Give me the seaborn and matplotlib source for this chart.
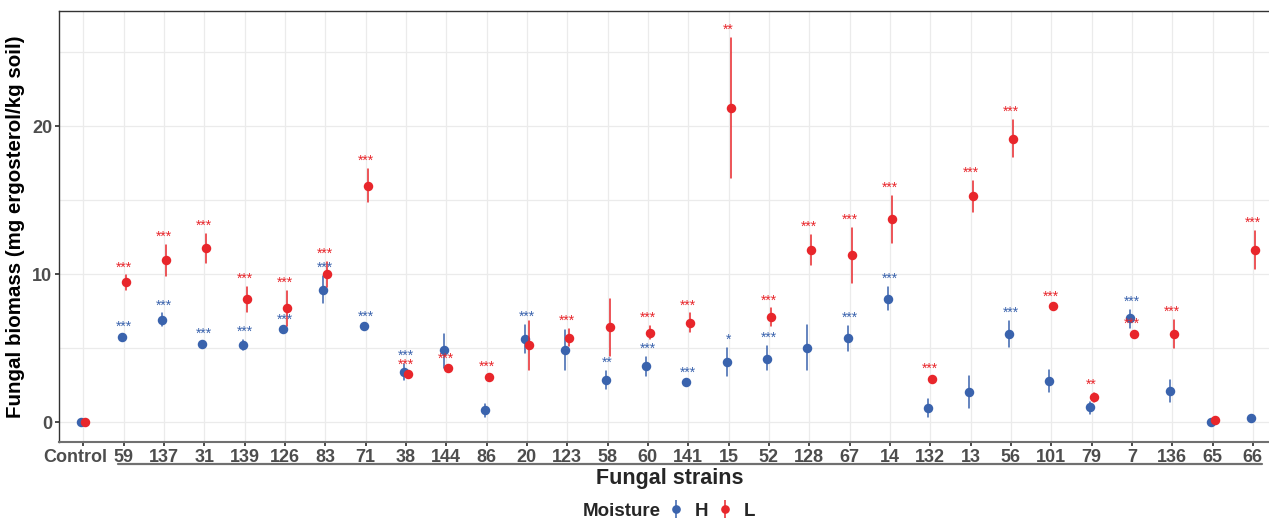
import numpy as np
import pandas as pd
import matplotlib
matplotlib.use("Agg")
import matplotlib.pyplot as plt
import matplotlib.transforms as mtransforms
from matplotlib.lines import Line2D
from matplotlib.legend_handler import HandlerTuple
from matplotlib.ticker import MultipleLocator
import seaborn as sns

# strains in plotted order
strains = ["Control", "59", "137", "31", "139", "126", "83", "71", "38", "144",
           "86", "20", "123", "58", "60", "141", "15", "52", "128", "67",
           "14", "132", "13", "56", "101", "79", "7", "136", "65", "66"]

# moisture H (mean, lower, upper)
h_mean = [0, 5.75, 6.93, 5.28, 5.19, 6.26, 8.96, 6.50, 3.41, 4.85,
          0.79, 5.62, 4.85, 2.87, 3.77, 2.69, 4.06, 4.29, 5.04, 5.65,
          8.35, 0.97, 2.06, 5.96, 2.78, 1.00, 7.02, 2.10, 0.00, 0.30]
h_lo = [0, 5.60, 6.48, 5.15, 4.85, 6.15, 8.06, 6.40, 2.87, 3.66,
        0.34, 4.67, 3.50, 2.26, 3.11, 2.60, 3.09, 3.50, 3.55, 4.81,
        7.56, 0.34, 0.97, 5.08, 2.03, 0.57, 6.39, 1.35, 0.00, 0.25]
h_hi = [0, 5.90, 7.34, 5.40, 5.53, 6.37, 9.86, 6.60, 3.95, 5.94,
        1.20, 6.55, 6.21, 3.45, 4.40, 2.80, 5.04, 5.13, 6.55, 6.48,
        9.14, 1.58, 3.11, 6.84, 3.50, 1.35, 7.56, 2.82, 0.00, 0.35]
h_sig = ["", "***", "***", "***", "***", "***", "***", "***", "***", "",
         "", "***", "", "**", "***", "***", "*", "***", "", "***",
         "***", "", "", "***", "", "", "***", "", "", ""]

# moisture L (mean, lower, upper)
l_mean = [0, 9.44, 10.95, 11.74, 8.31, 7.68, 10.00, 15.98, 3.25, 3.64,
          3.07, 5.19, 5.71, 6.43, 6.05, 6.73, 21.24, 7.07, 11.63, 11.27,
          13.72, 2.94, 15.28, 19.16, 7.85, 1.67, 5.92, 5.98, 0.14, 11.63]
l_lo = [0, 8.96, 9.89, 10.77, 7.45, 6.48, 9.14, 14.90, 3.15, 3.55,
        2.97, 3.55, 5.15, 4.47, 5.60, 6.09, 16.52, 6.48, 10.61, 9.41,
        12.12, 2.85, 14.22, 17.90, 7.75, 1.35, 5.75, 5.04, 0.10, 10.32]
l_hi = [0, 9.91, 11.96, 12.71, 9.14, 8.85, 10.83, 17.09, 3.35, 3.74,
        3.17, 6.82, 6.28, 8.35, 6.48, 7.34, 25.96, 7.68, 12.64, 13.13,
        15.30, 3.04, 16.30, 20.43, 7.95, 1.99, 6.10, 6.89, 0.18, 12.91]
l_sig = ["", "***", "***", "***", "***", "***", "***", "***", "***", "***",
         "***", "", "***", "", "***", "***", "**", "***", "***", "***",
         "***", "***", "***", "***", "***", "**", "***", "***", "", "***"]

groups = ["H", "L"]
colors = {"H": "#3A63AD", "L": "#E8262B"}

# long table: lower, mean, upper for each strain -> median = mean, range = bar
rows = []
for g, m, lo, hi in [("H", h_mean, h_lo, h_hi), ("L", l_mean, l_lo, l_hi)]:
    for s, a, b, c in zip(strains, m, lo, hi):
        for v in (b, a, c):
            rows.append({"strain": s, "Moisture": g, "value": v})
df = pd.DataFrame(rows)

sns.set_theme(style="white")
plt.rcParams["font.family"] = ["Liberation Sans", "DejaVu Sans"]

fig = plt.figure(figsize=(12.69, 5.2), dpi=100)
ax = fig.add_axes([0.0465, 0.15, 0.9535, 0.829])

sns.pointplot(data=df, x="strain", y="value", hue="Moisture",
              order=strains, hue_order=groups, palette=colors,
              estimator="median", errorbar=lambda v: (v.min(), v.max()),
              dodge=0.1, linestyle="none", markers="o", markersize=4.8,
              err_kws={"linewidth": 1.1}, legend=False, ax=ax)

# significance stars above the upper bar
for sig, hi, g in [(h_sig, h_hi, "H"), (l_sig, l_hi, "L")]:
    for i, (lab, top) in enumerate(zip(sig, hi)):
        if lab:
            ax.text(i, top + 0.55, lab, color=colors[g], fontsize=10,
                    ha="center", va="center")

ax.set_xlim(-0.6, 29.4)
ax.set_ylim(-1.35, 27.8)
ax.set_yticks([0, 10, 20])
ax.yaxis.set_minor_locator(MultipleLocator(5))
ax.set_axisbelow(True)
ax.grid(which="both", color="#EBEBEB", linewidth=0.9)

for side in ["top", "left"]:
    ax.spines[side].set_color("#333333")
    ax.spines[side].set_linewidth(1.0)
ax.spines["bottom"].set_color("#707070")
ax.spines["bottom"].set_linewidth(1.5)
ax.spines["right"].set_visible(False)

ax.tick_params(axis="both", which="major", length=3, color="#333333",
               labelsize=13, labelcolor="#4D4D4D", pad=2, bottom=True, left=True)
ax.tick_params(axis="y", which="minor", length=0)
for lab in ax.get_xticklabels() + ax.get_yticklabels():
    lab.set_fontweight("bold")
# nudge "Control" left so it clears "59"
ctrl = ax.get_xticklabels()[0]
ctrl.set_transform(ctrl.get_transform() +
                   mtransforms.ScaledTranslation(-8 / 100, 0, fig.dpi_scale_trans))

ax.set_xlabel("")
ax.set_ylabel("Fungal biomass (mg ergosterol/kg soil)", fontsize=14.8,
              fontweight="bold", color="black", labelpad=5)

# bracket under strain labels
trans = mtransforms.blended_transform_factory(ax.transData, ax.transAxes)
ax.plot([0.87, 29.22], [-0.051, -0.051], color="#707070", linewidth=1.6,
        transform=trans, clip_on=False)

fig.text(0.528, 0.08, "Fungal strains", ha="center", va="center",
         fontsize=15.5, fontweight="bold")

# legend at the bottom
handles = []
for g in groups:
    dot = Line2D([], [], marker="o", linestyle="none", color=colors[g], markersize=5.2)
    bar = Line2D([], [], marker="|", linestyle="none", color=colors[g],
                 markersize=13, markeredgewidth=1.1)
    handles.append((bar, dot))
fig.text(0.521, 0.017, "Moisture", ha="right", va="center", fontsize=13.5,
         fontweight="bold")
fig.legend(handles, groups, handler_map={tuple: HandlerTuple(ndivide=1)},
           loc="center left", bbox_to_anchor=(0.522, 0.017), ncol=2, frameon=False,
           handlelength=0.6, handletextpad=0.7, columnspacing=0.6,
           prop={"size": 13.5, "weight": "bold"}, borderaxespad=0)

fig.savefig("out.png", dpi=100)
